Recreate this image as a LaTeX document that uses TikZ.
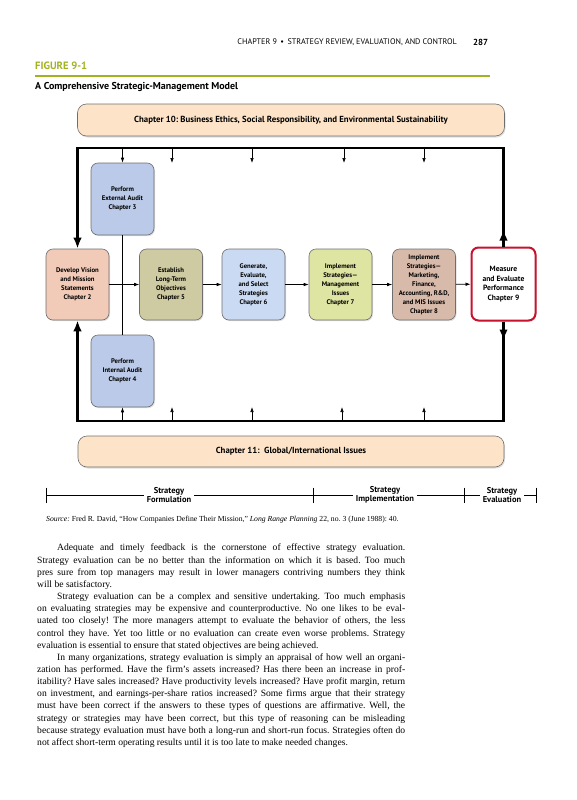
\documentclass[tikz,border=0pt]{standalone}
\usepackage{fontspec}
\setmainfont{Liberation Serif}
\setsansfont{PT Sans}
\usetikzlibrary{arrows.meta,shadows}
\definecolor{figgreen}{RGB}{163,178,30}
\definecolor{peach}{RGB}{253,228,200}
\definecolor{salmon}{RGB}{242,202,184}
\definecolor{khaki}{RGB}{206,202,162}
\definecolor{blueA}{RGB}{186,202,232}
\definecolor{blueB}{RGB}{202,218,242}
\definecolor{lime}{RGB}{222,228,162}
\definecolor{rose}{RGB}{216,186,170}
\definecolor{redline}{RGB}{200,18,46}
\definecolor{bordergray}{RGB}{110,110,110}
\newcommand\jline[1]{\hbox to 368pt{#1}}
\newcommand\eline[1]{\hbox{#1}}
\frenchspacing
\begin{document}
\begin{tikzpicture}[x=1pt,y=-1pt,
  box/.style={draw=bordergray, line width=0.6pt, rounded corners=7pt,
    minimum width=63pt, minimum height=71pt, align=center, inner sep=1pt,
    font=\sffamily\bfseries\fontsize{6.7}{9}\selectfont,
    drop shadow={opacity=0.25, shadow xshift=1pt, shadow yshift=-1.2pt}},
  band/.style={draw=bordergray, line width=0.6pt, rounded corners=9pt,
    fill=peach, align=center,
    font=\sffamily\bfseries\fontsize{8.8}{10}\selectfont,
    drop shadow={opacity=0.25, shadow xshift=1pt, shadow yshift=-1.5pt}},
  flow/.style={line width=0.7pt, -{Latex[length=5pt,width=3.6pt]}},
  frameline/.style={line width=2.6pt},
  bigtip/.style={-{Latex[length=11pt,width=8.5pt]}},
  phase/.style={fill=white, inner xsep=3pt, inner ysep=0pt, align=center,
    font=\sffamily\bfseries\fontsize{8.5}{9.5}\selectfont},
  tick/.style={line width=0.8pt}
]
\useasboundingbox (0,0) rectangle (576,800);

% header
\node[anchor=east, font=\sffamily\fontsize{8.1}{9}\selectfont, inner sep=0] (hdr) at (457,42)
  {CHAPTER 9 \,•\, STRATEGY REVIEW, EVALUATION, AND CONTROL};
\node[anchor=west, font=\sffamily\bfseries\fontsize{8.8}{9}\selectfont, inner sep=0] (pg) at (473,42) {287};
\node[anchor=west, font=\sffamily\bfseries\fontsize{10.6}{11}\selectfont, text=figgreen, inner sep=0] (fig) at (35,66) {FIGURE 9-1};
\coordinate (ruleL) at (35,76);
\coordinate (ruleR) at (490,76);
\draw[figgreen, line width=1.6pt] (ruleL) -- (ruleR);
\node[anchor=west, font=\sffamily\bfseries\fontsize{10}{11}\selectfont, inner sep=0] (title) at (35,87)
  {A Comprehensive Strategic-Management Model};

% bands
\node[band, minimum width=427pt, minimum height=32pt] (ethics) at (291,120)
  {Chapter 10: Business Ethics, Social Responsibility, and Environmental Sustainability};
\node[band, minimum width=426pt, minimum height=31pt] (global) at (291,451.5)
  {Chapter 11: \ Global/International Issues};

% boxes
\node[box, fill=blueA, minimum height=72pt] (ext) at (122.5,199) {Perform\\External Audit\\Chapter 3};
\node[box, fill=salmon] (dev) at (77.5,284.5) {Develop Vision\\and Mission\\Statements\\Chapter 2};
\node[box, fill=khaki] (est) at (171,284.5) {Establish\\Long-Term\\Objectives\\Chapter 5};
\node[box, fill=blueB] (gen) at (253.5,284.5) {Generate,\\Evaluate,\\and Select\\Strategies\\Chapter 6};
\node[box, fill=lime] (imp7) at (340.5,284.5) {Implement\\Strategies---\\Management\\Issues\\Chapter 7};
\node[box, fill=rose] (imp8) at (424,284.5) {Implement\\Strategies---\\Marketing,\\Finance,\\Accounting, R\&D,\\and MIS Issues\\Chapter 8};
\node[box, fill=white, draw=redline, line width=2pt, minimum width=64pt, minimum height=73pt,
  font=\sffamily\bfseries\fontsize{7.6}{9.6}\selectfont] (meas) at (503.5,284)
  {Measure\\and Evaluate\\Performance\\Chapter 9};
\node[box, fill=blueA, minimum height=72pt] (int) at (122.5,371) {Perform\\Internal Audit\\Chapter 4};

% audit spine
\draw[line width=0.7pt] (ext.south) -- (int.north);

% horizontal flow
\draw[flow] (dev) -- (est);
\draw[flow] (est) -- (gen);
\draw[flow] (gen) -- (imp7);
\draw[flow] (imp7) -- (imp8);
\draw[flow] (imp8) -- (meas);

% feedback frame
\coordinate (tl) at (77.5,148);
\coordinate (tr) at (503.5,148);
\coordinate (bl) at (77.5,421);
\coordinate (br) at (503.5,421);
\draw[frameline, bigtip] (meas.north) -- (tr) -- (tl) -- (dev.north);
\draw[frameline, bigtip] (meas.south) -- (br) -- (bl) -- (dev.south);
\draw[frameline, bigtip] (meas.north) -- ++(0,-17);
\draw[frameline, bigtip] (meas.south) -- ++(0,19);

% arrows from top line
\coordinate (t1) at (122.5,148);
\draw[flow] (t1) -- (ext.north);
\foreach \x/\n in {172/a,252/b,344/c,424/d}{
  \coordinate (ts\n) at (\x,148);
  \coordinate (te\n) at (\x,163);
  \draw[flow] (ts\n) -- (te\n);
}
% arrows from bottom line
\coordinate (b1) at (122.5,421);
\draw[flow] (b1) -- (int.south);
\foreach \x/\n in {172/a,252/b,342/c,424/d}{
  \coordinate (bs\n) at (\x,421);
  \coordinate (be\n) at (\x,407);
  \draw[flow] (bs\n) -- (be\n);
}

% phase line
\coordinate (p0) at (46,495);
\coordinate (p1) at (313,495);
\coordinate (p2) at (464,495);
\coordinate (p3) at (536,495);
\draw[line width=0.7pt] (p0) -- (p3);
\foreach \p in {p0,p1,p2,p3}{
  \draw[tick] ([yshift=7.5pt]\p) -- ([yshift=-7.5pt]\p);
}
\node[phase] (ph1) at (169,495) {Strategy\\Formulation};
\node[phase] (ph2) at (385,495) {Strategy\\Implementation};
\node[phase] (ph3) at (502,495) {Strategy\\Evaluation};

% source
\node[anchor=west, inner sep=0, font=\fontsize{7.7}{9}\selectfont] (src) at (46,520)
  {\textit{Source:} Fred R. David, “How Companies Define Their Mission,” \textit{Long Range Planning} 22, no. 3 (June 1988): 40.};

% body text
\node[anchor=north west, inner sep=0] (body) at (37,544) {\vbox{\fontsize{9.6}{12.15}\selectfont
\jline{\hspace*{20pt}Adequate and timely feedback is the cornerstone of effective strategy evaluation.}
\jline{Strategy evaluation can be no better than the information on which it is based. Too much}
\jline{pres sure from top managers may result in lower managers contriving numbers they think}
\eline{will be satisfactory.}
\jline{\hspace*{20pt}Strategy evaluation can be a complex and sensitive undertaking. Too much emphasis}
\jline{on evaluating strategies may be expensive and counterproductive. No one likes to be eval-}
\jline{uated too closely! The more managers attempt to evaluate the behavior of others, the less}
\jline{control they have. Yet too little or no evaluation can create even worse problems. Strategy}
\eline{evaluation is essential to ensure that stated objectives are being achieved.}
\jline{\hspace*{20pt}In many organizations, strategy evaluation is simply an appraisal of how well an organi-}
\jline{zation has performed. Have the firm’s assets increased? Has there been an increase in prof-}
\jline{itability? Have sales increased? Have productivity levels increased? Have profit margin, return}
\jline{on investment, and earnings-per-share ratios increased? Some firms argue that their strategy}
\jline{must have been correct if the answers to these types of questions are affirmative. Well, the}
\jline{strategy or strategies may have been correct, but this type of reasoning can be misleading}
\jline{because strategy evaluation must have both a long-run and short-run focus. Strategies often do}
\eline{not affect short-term operating results until it is too late to make needed changes.}
}};
\end{tikzpicture}
\end{document}
